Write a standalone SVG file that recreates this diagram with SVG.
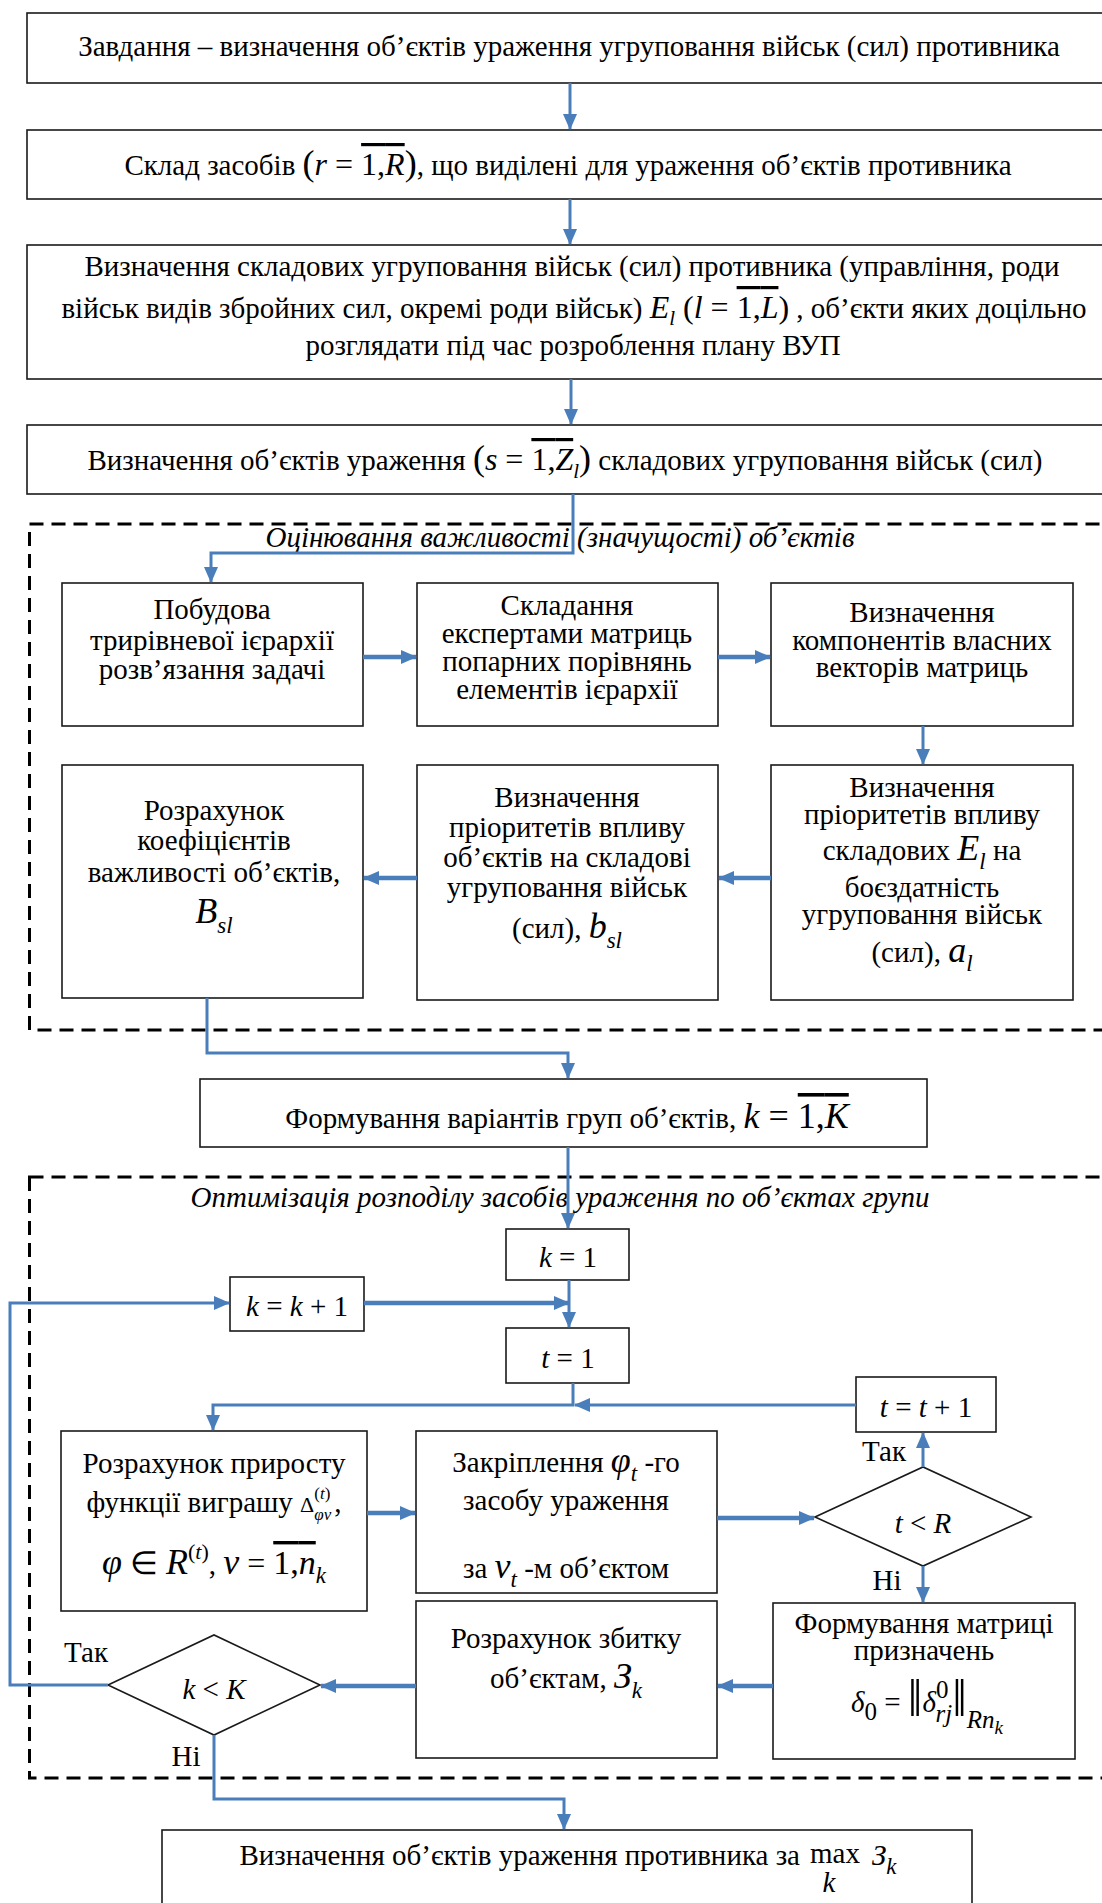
<svg xmlns="http://www.w3.org/2000/svg" width="1102" height="1903" viewBox="0 0 1102 1903">
<defs>
<marker id="ah" markerUnits="userSpaceOnUse" markerWidth="16" markerHeight="16" viewBox="0 0 16 16" refX="15" refY="8" orient="auto"><path d="M0,1 L16,8 L0,15 z" fill="#4a7ebb"/></marker>
</defs>
<style>
.box{fill:#fff;stroke:#1a1a1a;stroke-width:1.6}
text{font-family:"Liberation Serif","Times New Roman",serif;font-size:29px;fill:#000;text-anchor:middle}
.s{text-anchor:start}
.e{text-anchor:end}
.i{font-style:italic}
.c{fill:none;stroke:#4a7ebb;stroke-width:3}
.w{stroke-width:4.5}
.frame{fill:none;stroke:#000;stroke-width:3;stroke-dasharray:14 8}
</style>
<rect width="1102" height="1903" fill="#fff"/>

<g id="frames">
<rect class="frame" x="29.5" y="524" width="1100" height="506"/>
<rect class="frame" x="29.5" y="1177" width="1100" height="601"/>
<text class="i" x="560" y="547">Оцінювання важливості  (значущості) об’єктів</text>
<text class="i" x="560" y="1207">Оптимізація розподілу засобів ураження по об’єктах групи</text>
</g>

<g id="n1"><rect class="box" x="27" y="13" width="1100" height="70"/>
<text x="569" y="56">Завдання – визначення об’єктів ураження угруповання військ (сил) противника</text></g>

<g id="n2"><rect class="box" x="27" y="130" width="1100" height="69"/>
<text x="568" y="175">Склад засобів <tspan font-size="36">(</tspan><tspan class="i" font-size="32">r</tspan><tspan font-size="32"> = </tspan><tspan font-size="32" text-decoration="overline">1,<tspan class="i">R</tspan></tspan><tspan font-size="36">)</tspan>, що виділені для ураження об’єктів  противника</text></g>

<g id="n3"><rect class="box" x="27" y="245" width="1100" height="134"/>
<text x="572" y="276">Визначення складових угруповання військ (сил) противника (управління, роди</text>
<text x="574" y="318">військ видів збройних сил, окремі роди військ) <tspan class="i" font-size="32">E</tspan><tspan class="i" font-size="21" dy="7">l</tspan><tspan dy="-7" font-size="32">  (</tspan><tspan class="i" font-size="32">l</tspan><tspan font-size="32"> = </tspan><tspan font-size="32" text-decoration="overline">1,<tspan class="i">L</tspan></tspan><tspan font-size="32">)</tspan> , об’єкти яких доцільно</text>
<text x="573" y="355">розглядати під час розроблення плану ВУП</text></g>

<g id="n4"><rect class="box" x="27" y="425" width="1100" height="69"/>
<text x="565" y="470">Визначення об’єктів ураження <tspan font-size="36">(</tspan><tspan class="i" font-size="32">s</tspan><tspan font-size="32"> = </tspan><tspan font-size="32" text-decoration="overline">1,<tspan class="i">Z</tspan></tspan><tspan class="i" font-size="21" dy="8">l</tspan><tspan font-size="36" dy="-8">)</tspan> складових угруповання військ (сил)</text></g>

<g id="nA"><rect class="box" x="62" y="583" width="301" height="143"/>
<text x="212" y="619">Побудова</text><text x="212" y="650">трирівневої ієрархії</text><text x="212" y="679">розв’язання задачі</text></g>

<g id="nB"><rect class="box" x="417" y="583" width="301" height="143"/>
<text x="567" y="615">Складання</text><text x="567" y="643">експертами матриць</text><text x="567" y="671">попарних порівнянь</text><text x="567" y="699">елементів ієрархії</text></g>

<g id="nC"><rect class="box" x="771" y="583" width="302" height="143"/>
<text x="922" y="622">Визначення</text><text x="922" y="650">компонентів власних</text><text x="922" y="677">векторів матриць</text></g>

<g id="nD"><rect class="box" x="62" y="765" width="301" height="233"/>
<text x="214" y="820">Розрахунок</text><text x="214" y="850">коефіцієнтів</text><text x="214" y="882">важливості об’єктів,</text>
<text x="214" y="923"><tspan class="i" font-size="36">B</tspan><tspan class="i" font-size="23" dy="10">sl</tspan></text></g>

<g id="nE"><rect class="box" x="417" y="765" width="301" height="235"/>
<text x="567" y="807">Визначення</text><text x="567" y="837">пріоритетів впливу</text><text x="567" y="867">об’єктів на складові</text><text x="567" y="897">угруповання військ</text>
<text x="567" y="938">(сил), <tspan class="i" font-size="36">b</tspan><tspan class="i" font-size="23" dy="10">sl</tspan></text></g>

<g id="nF"><rect class="box" x="771" y="765" width="302" height="235"/>
<text x="922" y="797">Визначення</text><text x="922" y="824">пріоритетів впливу</text>
<text x="922" y="860">складових <tspan class="i" font-size="36">E</tspan><tspan class="i" font-size="23" dy="9">l</tspan><tspan dy="-9"> на</tspan></text>
<text x="922" y="897">боєздатність</text><text x="922" y="924">угруповання військ</text>
<text x="922" y="962">(сил), <tspan class="i" font-size="36">a</tspan><tspan class="i" font-size="23" dy="9">l</tspan></text></g>

<g id="nG"><rect class="box" x="200" y="1079" width="727" height="68"/>
<text x="567" y="1128">Формування варіантів груп об’єктів, <tspan class="i" font-size="36">k</tspan><tspan font-size="36"> = </tspan><tspan font-size="36" text-decoration="overline">1,<tspan class="i">K</tspan></tspan></text></g>

<g id="nk1"><rect class="box" x="506" y="1229" width="123" height="51"/>
<text x="568" y="1267" font-size="37"><tspan class="i">k</tspan> = 1</text></g>

<g id="nkk"><rect class="box" x="230" y="1277" width="134" height="54"/>
<text x="297" y="1316" font-size="37"><tspan class="i">k</tspan> = <tspan class="i">k</tspan> + 1</text></g>

<g id="nt1"><rect class="box" x="506" y="1328" width="123" height="55"/>
<text x="568" y="1368" font-size="37"><tspan class="i">t</tspan> = 1</text></g>

<g id="ntt"><rect class="box" x="856" y="1377" width="140" height="55"/>
<text x="926" y="1417" font-size="37"><tspan class="i">t</tspan> = <tspan class="i">t</tspan> + 1</text></g>

<g id="nH"><rect class="box" x="61" y="1431" width="306" height="180"/>
<text x="214" y="1473">Розрахунок приросту</text>
<text x="214" y="1512">функції виграшу <tspan font-size="22">Δ</tspan><tspan font-size="17" dy="-13">(<tspan class="i">t</tspan>)</tspan><tspan class="i" font-size="17" dx="-16" dy="21">φν</tspan><tspan dy="-8" dx="3">,</tspan></text>
<text x="214" y="1574"><tspan class="i" font-size="36">φ</tspan><tspan font-size="32"> ∈ </tspan><tspan class="i" font-size="36">R</tspan><tspan font-size="22" dy="-15">(<tspan class="i">t</tspan>)</tspan><tspan dy="15">,  </tspan><tspan class="i" font-size="36">ν</tspan><tspan font-size="32"> = </tspan><tspan font-size="34" text-decoration="overline">1,<tspan class="i">n</tspan></tspan><tspan class="i" font-size="23" dy="9">k</tspan></text></g>

<g id="nI"><rect class="box" x="416" y="1431" width="301" height="162"/>
<text x="566" y="1472">Закріплення <tspan class="i" font-size="36">φ</tspan><tspan class="i" font-size="23" dy="9">t</tspan><tspan dy="-9"> -го</tspan></text>
<text x="566" y="1510">засобу ураження</text>
<text x="566" y="1578">за <tspan class="i" font-size="36">ν</tspan><tspan class="i" font-size="23" dy="9">t</tspan><tspan dy="-9"> -м об’єктом</tspan></text></g>

<g id="nD1"><polygon class="box" points="815,1517 923,1467 1031,1517 923,1566"/>
<text x="923" y="1533" font-size="40"><tspan class="i">t</tspan> &lt; <tspan class="i">R</tspan></text>
<text x="884" y="1461">Так</text>
<text x="887" y="1590">Ні</text></g>

<g id="nJ"><rect class="box" x="773" y="1603" width="302" height="156"/>
<text x="924" y="1633">Формування матриці</text>
<text x="924" y="1660">призначень</text>
<text x="927" y="1712" font-size="37"><tspan class="i">δ</tspan><tspan font-size="25" dy="8">0</tspan><tspan dy="-8"> = </tspan><tspan font-size="52" dy="4">‖</tspan><tspan class="i" dy="-4">δ</tspan><tspan font-size="25" dy="-14">0</tspan><tspan class="i" font-size="25" dx="-13" dy="24">rj</tspan><tspan font-size="52" dy="-6">‖</tspan><tspan class="i" font-size="25" dy="12">Rn</tspan><tspan class="i" font-size="19" dy="6">k</tspan></text></g>

<g id="nK"><rect class="box" x="416" y="1601" width="301" height="157"/>
<text x="566" y="1648">Розрахунок збитку</text>
<text x="566" y="1688">об’єктам, <tspan class="i" font-size="36">З</tspan><tspan class="i" font-size="23" dy="10">k</tspan></text></g>

<g id="nD2"><polygon class="box" points="108,1685 214,1635 320,1685 214,1735"/>
<text x="214" y="1699" font-size="40"><tspan class="i">k</tspan> &lt; <tspan class="i">K</tspan></text>
<text x="86" y="1662">Так</text>
<text x="186" y="1766">Ні</text></g>

<g id="nL"><rect class="box" x="162" y="1830" width="810" height="90"/>
<text class="e" x="800" y="1865">Визначення об’єктів ураження противника за</text>
<text class="s" x="810" y="1863" font-size="27">max</text>
<text class="s i" x="872" y="1865" font-size="34">З<tspan font-size="23" dy="9">k</tspan></text>
<text class="i" x="829" y="1892" font-size="23">k</text></g>

<g id="connectors">
<path class="c" d="M570,83 V129" marker-end="url(#ah)"/>
<path class="c" d="M570,199 V244" marker-end="url(#ah)"/>
<path class="c" d="M571,379 V424" marker-end="url(#ah)"/>
<path class="c" d="M573,494 V553 H211 V582" marker-end="url(#ah)"/>
<path class="c w" d="M363,657 H416" marker-end="url(#ah)"/>
<path class="c w" d="M718,657 H770" marker-end="url(#ah)"/>
<path class="c" d="M923,726 V764" marker-end="url(#ah)"/>
<path class="c w" d="M771,878 H719" marker-end="url(#ah)"/>
<path class="c w" d="M417,878 H364" marker-end="url(#ah)"/>
<path class="c" d="M207,998 V1053 H568 V1078" marker-end="url(#ah)"/>
<path class="c" d="M568,1147 V1228" marker-end="url(#ah)"/>
<path class="c" d="M569,1280 V1327" marker-end="url(#ah)"/>
<path class="c" d="M108,1685 H10 V1303 H229" marker-end="url(#ah)"/>
<path class="c w" d="M364,1303 H569" marker-end="url(#ah)"/>
<path class="c" d="M573,1383 V1405 H213 V1430" marker-end="url(#ah)"/>
<path class="c" d="M856,1405 H575" marker-end="url(#ah)"/>
<path class="c w" d="M367,1513 H415" marker-end="url(#ah)"/>
<path class="c w" d="M717,1518 H814" marker-end="url(#ah)"/>
<path class="c" d="M923,1467 V1433" marker-end="url(#ah)"/>
<path class="c" d="M923,1566 V1602" marker-end="url(#ah)"/>
<path class="c w" d="M773,1686 H718" marker-end="url(#ah)"/>
<path class="c w" d="M416,1686 H321" marker-end="url(#ah)"/>
<path class="c" d="M214,1735 V1799 H564 V1829" marker-end="url(#ah)"/>
</g>
</svg>
